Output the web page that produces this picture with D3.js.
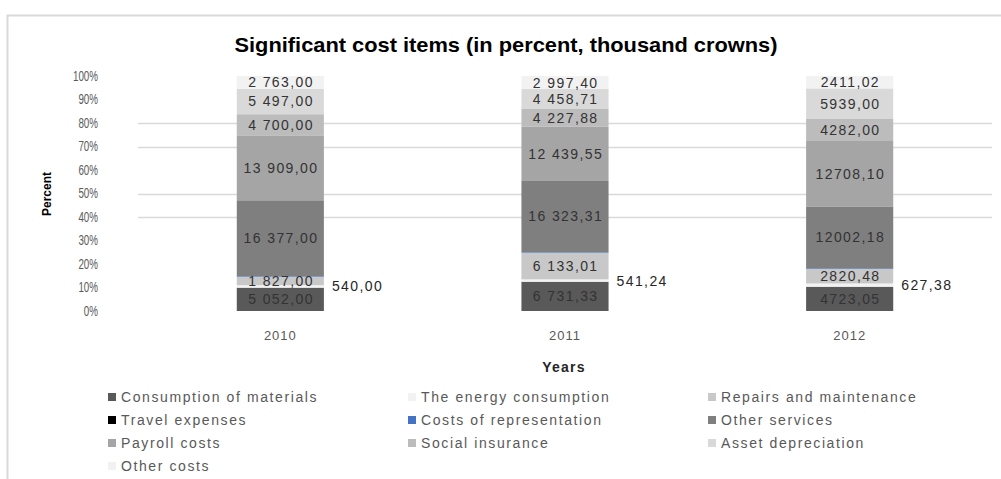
<!DOCTYPE html>
<html>
<head>
<meta charset="utf-8">
<script src="https://cdn.jsdelivr.net/npm/d3@7/dist/d3.min.js"></script>
<style>
  html, body { margin: 0; padding: 0; background: #fff; }
  svg { display: block; font-family: "Liberation Sans", Arial, sans-serif; }
</style>
</head>
<body>
<svg id="chart" width="1001" height="479"></svg>
<script>
// ---- data ----
const years = ["2010", "2011", "2012"];
const seriesNames = [
  "Consumption of materials", "The energy consumption", "Repairs and maintenance",
  "Travel expenses", "Costs of representation", "Other services",
  "Payroll costs", "Social insurance", "Asset depreciation", "Other costs"
];
const seriesColors = [
  "#595959", "#f2f2f2", "#c8c8c8",
  "#000000", "#4472c4", "#7f7f7f",
  "#a5a5a5", "#bcbcbc", "#d9d9d9", "#f2f2f2"
];
const consumptionOfMaterials = [5052.00, 6731.33, 4723.05];
const energyConsumption      = [540.00, 541.24, 627.38];
const repairsAndMaintenance  = [1827.00, 6133.01, 2820.48];
const travelExpenses         = [30, 30, 30];
const costsOfRepresentation  = [120, 120, 120];
const otherServices          = [16377.00, 16323.31, 12002.18];
const payrollCosts           = [13909.00, 12439.55, 12708.10];
const socialInsurance        = [4700.00, 4227.88, 4282.00];
const assetDepreciation      = [5497.00, 4458.71, 5939.00];
const otherCosts             = [2763.00, 2997.40, 2411.02];
const labelledSeries = [true, true, true, false, false, true, true, true, true, true];
const groupThousands = [true, true, false];
const yTicks = [0, 0.1, 0.2, 0.3, 0.4, 0.5, 0.6, 0.7, 0.8, 0.9, 1.0];
const gridTicks = [0.4, 0.5, 0.7, 0.8];

const seriesValues = [
  consumptionOfMaterials, energyConsumption, repairsAndMaintenance,
  travelExpenses, costsOfRepresentation, otherServices,
  payrollCosts, socialInsurance, assetDepreciation, otherCosts
];

// ---- table ----
const table = years.map((y, i) => {
  const row = { year: y };
  seriesNames.forEach((s, k) => row[s] = seriesValues[k][i]);
  return row;
});

const stack = d3.stack().keys(seriesNames).offset(d3.stackOffsetExpand);
const stacked = stack(table);

const svg = d3.select("#chart");

// outer border
svg.append("rect").attr("x", 7.5).attr("y", 15.5).attr("width", 1010).attr("height", 480)
  .attr("fill", "#fff").attr("stroke", "#d9d9d9").attr("stroke-width", 2);

const x = d3.scaleBand().domain(years).range([138, 992]).paddingInner(0.694).paddingOuter(0.347);
const y = d3.scaleLinear().domain([0, 1]).range([311, 76]);

// title
svg.append("text").attr("x", 506).attr("y", 52).attr("text-anchor", "middle")
  .attr("font-size", 21).attr("font-weight", "bold").attr("fill", "#000")
  .attr("textLength", 543).attr("lengthAdjust", "spacingAndGlyphs")
  .text("Significant cost items (in percent, thousand crowns)");

// grid
svg.append("g").selectAll("line").data(gridTicks).join("line")
  .attr("x1", 138).attr("x2", 992)
  .attr("y1", d => Math.round(y(d)) + 0.5).attr("y2", d => Math.round(y(d)) + 0.5)
  .attr("stroke", "#d9d9d9").attr("stroke-width", 1.5);

// y axis
const yAxis = d3.axisLeft(y).tickValues(yTicks).tickFormat(d3.format(".0%")).tickSize(0).tickPadding(0);
const gy = svg.append("g").attr("transform", "translate(98,0)").call(yAxis);
gy.select(".domain").remove();
gy.selectAll("text")
  .attr("font-size", 14).attr("fill", "#595959")
  .attr("font-family", "'Liberation Sans', Arial, sans-serif")
  .attr("x", 0).attr("transform", "scale(0.7,1)");

// x axis
const xAxis = d3.axisBottom(x).tickSize(0).tickPadding(0);
const gx = svg.append("g").attr("transform", "translate(0,331)").call(xAxis);
gx.select(".domain").remove();
gx.selectAll("text").attr("font-size", 13).attr("fill", "#595959").attr("letter-spacing", 1)
  .attr("font-family", "'Liberation Sans', Arial, sans-serif");

// axis titles
svg.append("text").attr("transform", "translate(51,194) rotate(-90)").attr("text-anchor", "middle")
  .attr("font-size", 12).attr("font-weight", "bold").attr("fill", "#000").text("Percent");
svg.append("text").attr("x", 564).attr("y", 372).attr("text-anchor", "middle")
  .attr("font-size", 14).attr("font-weight", "bold").attr("fill", "#262626")
  .attr("letter-spacing", 1.2).text("Years");

// bars
const layers = svg.append("g").selectAll("g").data(stacked).join("g")
  .attr("fill", (d, k) => seriesColors[k]);
layers.selectAll("rect").data(d => d).join("rect")
  .attr("x", d => x(d.data.year))
  .attr("width", x.bandwidth())
  .attr("y", d => y(d[1]))
  .attr("height", d => Math.max(0, y(d[0]) - y(d[1])));

// labels
const locGroup = d3.formatLocale({ decimal: ",", thousands: " ", grouping: [3], currency: ["", ""] });
const locPlain = d3.formatLocale({ decimal: ",", thousands: "", grouping: [3], currency: ["", ""] });
const fmtG = locGroup.format(",.2f");
const fmtP = locPlain.format(".2f");
const labelData = [];
stacked.forEach((s, k) => {
  if (!labelledSeries[k]) return;
  s.forEach((d, i) => {
    const v = seriesValues[k][i];
    labelData.push({ k, i, d, text: groupThousands[i] ? fmtG(v) : fmtP(v) });
  });
});
svg.append("g").selectAll("text").data(labelData).join("text")
  .attr("x", o => o.k === 1 ? x(o.d.data.year) + x.bandwidth() + 8 : x(o.d.data.year) + x.bandwidth() / 2 + 0.7)
  .attr("y", o => (y(o.d[0]) + y(o.d[1])) / 2 + 5)
  .attr("text-anchor", o => o.k === 1 ? "start" : "middle")
  .attr("font-size", 14)
  .attr("letter-spacing", 1.4)
  .attr("fill", o => o.k === 1 ? "#262626" : "#333333")
  .text(o => o.text);

// legend
const legCols = [108, 408, 708];
const legRows = [397, 420, 443, 466];
const leg = svg.append("g").selectAll("g").data(seriesNames).join("g")
  .attr("transform", (d, k) => `translate(${legCols[k % 3]},${legRows[Math.floor(k / 3)]})`);
leg.append("rect").attr("x", 0).attr("y", -4).attr("width", 8).attr("height", 8)
  .attr("fill", (d, k) => seriesColors[k]);
leg.append("text").attr("x", 13).attr("y", 5).attr("font-size", 14).attr("fill", "#595959")
  .attr("letter-spacing", 1.6)
  .text(d => d);
</script>
</body>
</html>
